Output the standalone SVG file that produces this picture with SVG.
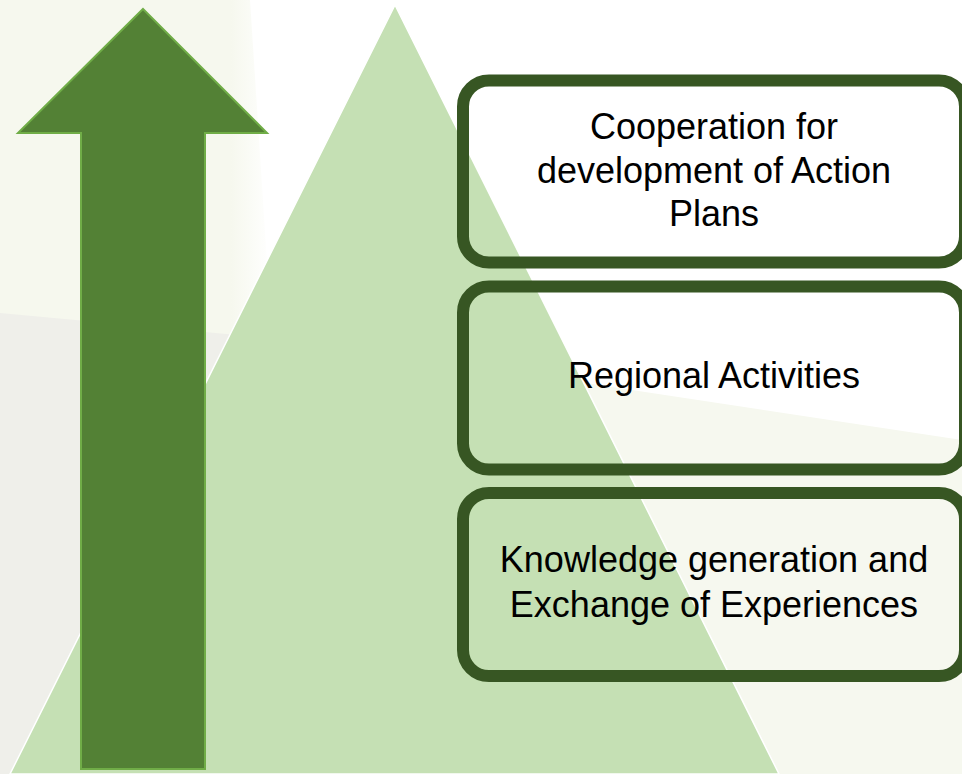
<svg xmlns="http://www.w3.org/2000/svg" width="962" height="774" viewBox="0 0 962 774">
  <defs>
    <style>
      .box { fill: none; stroke: #375623; stroke-width: 12; }
      .lbl { font-family: "Liberation Sans", Arial, sans-serif; font-size: 36px; fill: #000; text-anchor: middle; }
    </style>
    <linearGradient id="fadeR" x1="0" y1="0" x2="1" y2="0">
      <stop offset="0" stop-color="#f6f8ee"/>
      <stop offset="0.85" stop-color="#f6f8ee"/>
      <stop offset="1" stop-color="#ffffff"/>
    </linearGradient>
  </defs>

  <g id="background">
    <rect x="0" y="0" width="962" height="774" fill="#ffffff"/>
    <polygon points="0,0 250,0 272,340 0,318" fill="url(#fadeR)"/>
    <polygon points="0,313 270,338 270,774 0,774" fill="#efefea"/>
    <polygon points="400,355 962,440 962,774 400,774" fill="#f6f8ef"/>
  </g>

  <g id="pyramid">
    <polygon points="395,5 10,774 779,774" fill="#c5e0b4" stroke="#ffffff" stroke-width="1.5"/>
  </g>

  <g id="up-arrow">
    <polygon points="143,9 267,133 205,133 205,769 81,769 81,133 18,133" fill="#538135" stroke="#70ad47" stroke-width="2" stroke-linejoin="miter"/>
  </g>

  <g id="node-action-plans">
    <rect class="box" x="463" y="80.5" width="502" height="182" rx="26"/>
    <text class="lbl" x="714" y="139">Cooperation for</text>
    <text class="lbl" x="714" y="183">development of Action</text>
    <text class="lbl" x="714" y="226">Plans</text>
  </g>

  <g id="node-regional">
    <rect class="box" x="463" y="286.5" width="502" height="183" rx="26"/>
    <text class="lbl" x="714" y="388">Regional Activities</text>
  </g>

  <g id="node-knowledge">
    <rect class="box" x="463" y="493" width="502" height="183" rx="26"/>
    <text class="lbl" x="714" y="572">Knowledge generation and</text>
    <text class="lbl" x="714" y="617">Exchange of Experiences</text>
  </g>

  <g id="connectors"></g>
</svg>
